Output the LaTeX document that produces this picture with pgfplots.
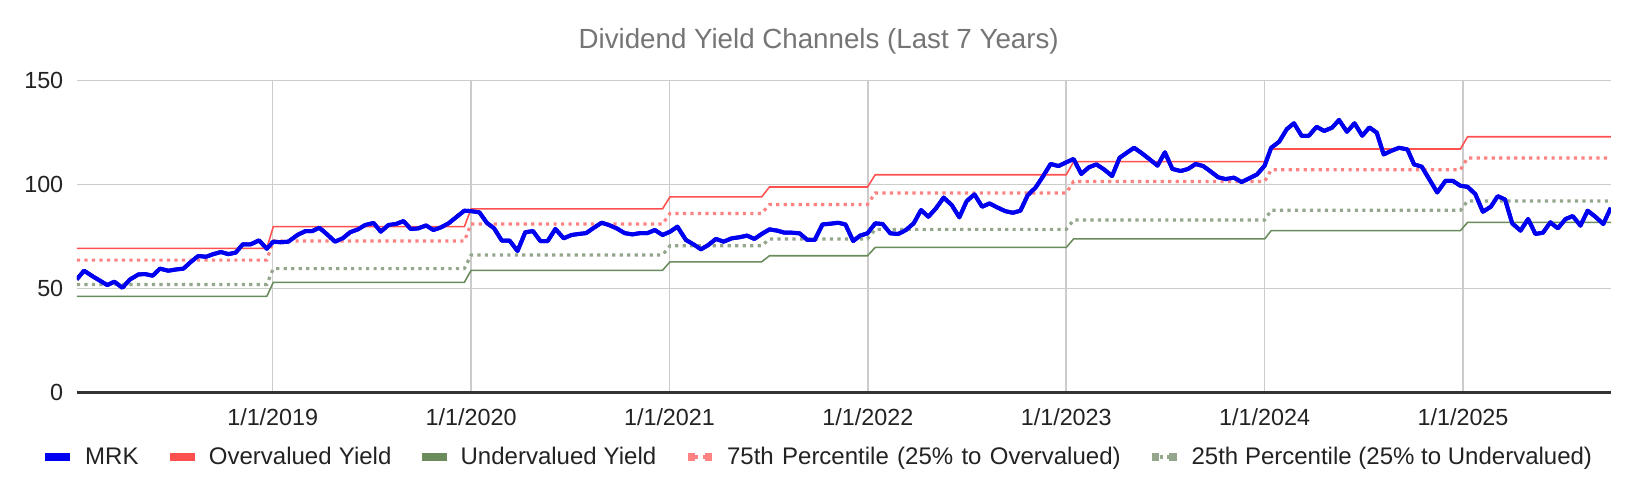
\documentclass[border=0pt]{standalone}
\usepackage{fontspec}
\setmainfont{Liberation Sans}
\usepackage{pgfplots}
\usepackage{pgfplotstable}
\pgfplotsset{compat=1.18}
\definecolor{mrk}{HTML}{0000F0}
\definecolor{over}{HTML}{FF5050}
\definecolor{under}{HTML}{6A8B5B}
\definecolor{pseventyfive}{HTML}{FF8282}
\definecolor{ptwentyfive}{HTML}{94A68B}
\definecolor{gridc}{HTML}{CCCCCC}
\definecolor{axisc}{HTML}{333333}
\definecolor{titlec}{HTML}{757575}
\definecolor{textc}{HTML}{222222}

\pgfplotsset{
  solidlegend/.style={legend image code/.code={\draw[##1, line width=3.33pt, solid, overlay] (0pt,0pt) -- (11.07pt,0pt); \path (0pt,0pt) -- (11.07pt,0pt);}},
  dotlegend/.style={legend image code/.code={\draw[##1, line width=3.3pt, dash pattern=on 3.3pt off 4.47pt, overlay] (0pt,0pt) -- (11.07pt,0pt); \path (0pt,0pt) -- (11.07pt,0pt);}},
}

\pgfplotstableread{
x y
2018.012 54.3
2018.049 58.5
2018.096 55.6
2018.129 53.7
2018.166 51.6
2018.202 53.2
2018.242 50.3
2018.281 54.3
2018.323 56.7
2018.356 56.9
2018.395 56.1
2018.432 59.5
2018.474 58.5
2018.513 59.1
2018.550 59.5
2018.588 62.8
2018.625 65.6
2018.664 65.2
2018.701 66.5
2018.739 67.5
2018.776 66.5
2018.813 67.2
2018.849 71.2
2018.889 71.2
2018.931 73.1
2018.970 69.1
2019.003 72.5
2019.040 72.2
2019.079 72.5
2019.126 75.8
2019.166 77.6
2019.200 77.6
2019.235 79.2
2019.272 76.2
2019.314 72.5
2019.353 74.1
2019.390 77.0
2019.429 78.4
2019.466 80.5
2019.508 81.5
2019.545 77.3
2019.583 80.5
2019.622 81.0
2019.659 82.4
2019.696 78.6
2019.734 78.9
2019.773 80.3
2019.810 78.1
2019.849 79.4
2019.886 81.3
2019.928 84.5
2019.966 87.4
2020.000 87.2
2020.042 86.6
2020.079 81.6
2020.116 78.9
2020.155 73.0
2020.194 73.0
2020.234 68.0
2020.273 77.0
2020.312 77.6
2020.349 72.8
2020.386 72.8
2020.425 78.6
2020.467 74.1
2020.506 75.7
2020.543 76.2
2020.580 76.6
2020.619 79.2
2020.658 81.6
2020.695 80.5
2020.734 78.9
2020.774 76.6
2020.813 76.0
2020.852 76.6
2020.889 76.6
2020.926 78.1
2020.965 75.7
2021.003 77.3
2021.040 79.7
2021.083 73.3
2021.121 71.2
2021.159 68.8
2021.196 70.9
2021.234 73.8
2021.273 72.5
2021.314 74.1
2021.352 74.6
2021.391 75.4
2021.428 73.8
2021.465 76.2
2021.504 78.4
2021.543 77.8
2021.580 76.8
2021.617 76.8
2021.656 76.5
2021.695 73.3
2021.732 73.3
2021.771 80.8
2021.808 81.1
2021.850 81.6
2021.887 80.8
2021.926 72.8
2021.961 75.4
2021.998 76.5
2022.037 81.3
2022.074 81.0
2022.113 76.5
2022.153 76.2
2022.192 78.1
2022.231 81.3
2022.268 87.7
2022.305 84.5
2022.343 88.5
2022.382 93.7
2022.423 90.1
2022.461 84.2
2022.498 92.0
2022.537 95.3
2022.576 89.3
2022.613 90.9
2022.652 89.0
2022.692 87.2
2022.731 86.4
2022.769 87.4
2022.806 94.9
2022.845 98.5
2022.882 103.8
2022.921 109.9
2022.961 108.9
2023.000 110.7
2023.037 112.3
2023.076 105.1
2023.114 108.3
2023.152 109.7
2023.190 107.3
2023.231 104.1
2023.269 112.9
2023.308 115.5
2023.342 117.7
2023.382 115.0
2023.421 112.1
2023.460 109.1
2023.497 115.5
2023.535 107.5
2023.577 106.5
2023.614 107.5
2023.652 109.9
2023.690 108.9
2023.729 106.2
2023.766 103.5
2023.803 102.6
2023.845 103.3
2023.884 101.2
2023.923 103.0
2023.962 104.9
2024.000 109.1
2024.033 117.7
2024.073 120.6
2024.112 126.7
2024.148 129.5
2024.187 123.4
2024.223 123.5
2024.262 127.8
2024.300 125.8
2024.340 127.4
2024.375 131.1
2024.415 125.4
2024.453 129.5
2024.492 123.5
2024.528 127.5
2024.565 125.0
2024.600 114.5
2024.640 116.3
2024.678 117.7
2024.720 116.9
2024.753 109.7
2024.792 108.6
2024.832 102.2
2024.870 96.2
2024.912 101.8
2024.948 101.8
2024.987 99.4
2025.023 98.9
2025.062 95.4
2025.100 86.9
2025.140 89.3
2025.175 94.4
2025.212 92.8
2025.248 81.3
2025.290 77.8
2025.328 83.4
2025.365 76.2
2025.403 76.8
2025.440 81.8
2025.478 78.9
2025.517 83.4
2025.553 84.8
2025.592 80.2
2025.628 87.4
2025.667 84.5
2025.707 81.0
2025.745 88.8
}\mrktable

\pgfplotstableread{
x over p75 p25 under
2018.0135 69.3 63.6 51.9 46.1
2018.970 69.3 63.6 51.9 46.1
2019.003 79.7 72.8 59.5 52.9
2019.966 79.7 72.8 59.5 52.9
2020.000 88.3 81.0 66.1 58.7
2020.965 88.3 81.0 66.1 58.7
2021.003 94.1 86.1 70.5 62.8
2021.465 94.1 86.1 70.5 62.8
2021.504 98.8 90.4 73.8 65.7
2021.998 98.8 90.4 73.8 65.7
2022.037 104.7 95.9 78.4 69.7
2023.000 104.7 95.9 78.4 69.7
2023.037 111.0 101.5 82.9 73.8
2024.000 111.0 101.5 82.9 73.8
2024.033 117.1 107.1 87.6 77.8
2024.987 117.1 107.1 87.6 77.8
2025.023 123.0 112.8 92.1 81.8
2025.745 123.0 112.8 92.1 81.8
}\chantable

\begin{document}
\begin{tikzpicture}
\path[use as bounding box] (0,0) rectangle (736.2pt,222.3pt);
\begin{axis}[
  at={(34.65pt,45.81pt)}, anchor=south west,
  scale only axis, width=690.21pt, height=140.175pt,
  xmin=2018.0135, xmax=2025.745, ymin=0, ymax=150,
  axis x line*=bottom, axis y line*=left,
  x axis line style={draw=axisc, line width=1.2pt},
  y axis line style={draw=none},
  major tick length=0pt,
  xtick={2019,2020,2021,2022,2023,2024,2025},
  xticklabels={1/1/2019,1/1/2020,1/1/2021,1/1/2022,1/1/2023,1/1/2024,1/1/2025},
  ytick={0,50,100,150},
  grid=major,
  major grid style={draw=gridc, line width=0.68pt},
  tick label style={font=\fontsize{10.5pt}{12pt}\selectfont, text=textc},
  /pgf/number format/assume math mode=true,
  xticklabel style={anchor=base, inner sep=0pt, yshift=-15pt},
  yticklabel style={anchor=east, inner sep=0pt, xshift=-6pt},
  title={Dividend Yield Channels (Last 7 Years)},
  title style={at={(0.48355,1.060)}, anchor=base, inner sep=0pt,
    font=\fontsize{12.47pt}{14pt}\selectfont, text=titlec},
  legend columns=-1,
  legend cell align=left,
  legend style={at={(-0.02197,-0.208)}, anchor=west, draw=none, fill=none,
    inner sep=0pt, outer sep=0pt,
    font=\fontsize{10.8pt}{12pt}\selectfont, text=textc,
    nodes={inner sep=0pt, text height=0.716em, text depth=0pt},
    /tikz/every odd column/.append style={column sep=6.0pt},
    /tikz/every even column/.append style={column sep=13.4pt}},
]
\addplot[mrk, line width=1.8pt, line join=round, solidlegend]
  table[x=x, y=y] {\mrktable};
\addlegendentry{\makebox[24.5pt][s]{MRK}}
\addplot[over, line width=0.7pt, solidlegend]
  table[x=x, y=over] {\chantable};
\addlegendentry{\makebox[82.1pt][s]{Overvalued Yield}}
\addplot[under, line width=0.7pt, solidlegend]
  table[x=x, y=under] {\chantable};
\addlegendentry{\makebox[88.0pt][s]{Undervalued Yield}}
\addplot[pseventyfive, line width=1.44pt, dash pattern=on 1.44pt off 1.93pt, dotlegend]
  table[x=x, y=p75] {\chantable};
\addlegendentry{\makebox[177.1pt][s]{75th Percentile (25\% to Overvalued)}}
\addplot[ptwentyfive, line width=1.44pt, dash pattern=on 1.44pt off 1.93pt, dotlegend]
  table[x=x, y=p25] {\chantable};
\addlegendentry{\makebox[180.2pt][s]{25th Percentile (25\% to Undervalued)}}
\addplot[mrk, line width=1.8pt, line join=round, forget plot]
  table[x=x, y=y] {\mrktable};
\end{axis}
\end{tikzpicture}
\end{document}
